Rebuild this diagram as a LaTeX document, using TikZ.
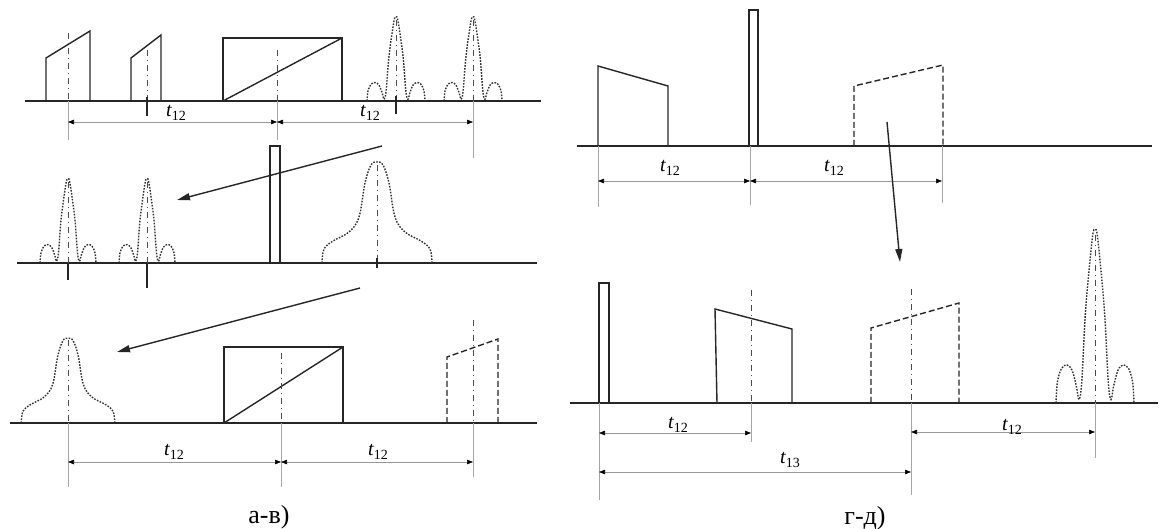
\documentclass[tikz,border=0pt]{standalone}
\usepackage{fontspec}
\setmainfont{Liberation Serif}
\usetikzlibrary{arrows.meta,calc}

\begin{document}
\begin{tikzpicture}[x=1pt, y=-1pt,
  axis/.style={line width=1.6pt, black!85},
  pulse/.style={line width=1.4pt, black!85},
  dashpulse/.style={pulse, dash pattern=on 6pt off 3pt},
  dotpulse/.style={line width=1.4pt, black!80, dash pattern=on 1.6pt off 1.4pt},
  axisline/.style={line width=0.8pt, black!70, dash pattern=on 6pt off 4pt on 1pt off 4pt},
  extline/.style={line width=0.6pt, black!35},
  dimline/.style={line width=0.6pt, black!40, {Triangle[length=6pt,width=4.5pt,black]}-{Triangle[length=6pt,width=4.5pt,black]}},
  tickmark/.style={line width=1.4pt, black!85},
  move/.style={line width=1.4pt, black!85, -{Triangle[length=13pt,width=7pt]}},
  dimlabel/.style={font=\fontsize{20}{24}\selectfont, inner sep=0pt},
  caption/.style={font=\fontsize{26}{30}\selectfont, inner sep=0pt}
]
  \useasboundingbox (0,0) rectangle (1160,529);

  % ---------- а) ----------
  \draw[axis] (25,101) -- (541,101);
  \draw[pulse] (46,101) -- (46,58) -- (90,31) -- (90,101);
  \draw[pulse] (131,101) -- (131,58) -- (161,35) -- (161,101);
  \draw[pulse] (223,101) rectangle (342,38);
  \draw[pulse] (223,101) -- (342,38);
  \draw[axisline] (68,33) -- (68,101);
  \draw[axisline] (147,50) -- (147,101);
  \draw[axisline] (277,50) -- (277,101);
  \draw[axisline] (396,20) -- (396,101);
  \draw[axisline] (473,20) -- (473,101);
  \draw[tickmark] (147,97) -- (147,116);
  \draw[tickmark] (396,96) -- (396,114);
  \draw[extline] (68,101) -- (68,140);
  \draw[extline] (277,101) -- (277,140);
  \draw[extline] (473,101) -- (473,158);
  \coordinate (a1) at (68,122);
  \coordinate (a2) at (277,122);
  \coordinate (a3) at (473,122);
  \draw[dimline] (a1) -- (a2);
  \draw[dimline] (a2) -- (a3);
  \node[dimlabel] (at1) at (176,113) {\textit{t}\raisebox{-4pt}{\fontsize{14}{14}\selectfont 12}};
  \node[dimlabel] (at2) at (370,113) {\textit{t}\raisebox{-4pt}{\fontsize{14}{14}\selectfont 12}};

  % sinc pulses
  \foreach \cx/\base/\h/\hw in {396/101/84/29, 473/101/84/29, 68/263/84/28, 147/263/84/28, 1095/403/173/39}
    \draw[dotpulse] plot[smooth, tension=0.55] coordinates {
      ({\cx-\hw},{\base}) ({\cx-0.965*\hw},{\base-0.12*\h}) ({\cx-0.86*\hw},{\base-0.2*\h})
      ({\cx-0.72*\hw},{\base-0.22*\h}) ({\cx-0.59*\hw},{\base-0.19*\h}) ({\cx-0.48*\hw},{\base-0.1*\h})
      ({\cx-0.41*\hw},{\base-0.02*\h}) ({\cx-0.34*\hw},{\base-0.12*\h}) ({\cx-0.24*\hw},{\base-0.54*\h})
      ({\cx-0.07*\hw},{\base-0.95*\h}) ({\cx},{\base-\h}) ({\cx+0.07*\hw},{\base-0.95*\h})
      ({\cx+0.24*\hw},{\base-0.54*\h}) ({\cx+0.34*\hw},{\base-0.12*\h}) ({\cx+0.41*\hw},{\base-0.02*\h})
      ({\cx+0.48*\hw},{\base-0.1*\h}) ({\cx+0.59*\hw},{\base-0.19*\h}) ({\cx+0.72*\hw},{\base-0.22*\h})
      ({\cx+0.86*\hw},{\base-0.2*\h}) ({\cx+0.965*\hw},{\base-0.12*\h}) ({\cx+\hw},{\base})};

  % ---------- б) ----------
  \draw[axis] (17,263) -- (537,263);
  \draw[pulse] (270,263) rectangle (280,146);
  \draw[axisline] (68,182) -- (68,263);
  \draw[axisline] (147,182) -- (147,263);
  \draw[axisline] (377,165) -- (377,263);
  \draw[tickmark] (68,263) -- (68,280);
  \draw[tickmark] (147,263) -- (147,288);
  \draw[tickmark] (377,258) -- (377,268);

  % bell pulses
  \foreach \cx/\base/\sx/\sy in {377/263/1/1, 68/423/0.85/0.84}
    \draw[dotpulse] plot[smooth, tension=0.6] coordinates {
      ({\cx-55*\sx},{\base}) ({\cx-53*\sx},{\base-14*\sy}) ({\cx-44*\sx},{\base-22*\sy})
      ({\cx-28*\sx},{\base-31*\sy}) ({\cx-18*\sx},{\base-46*\sy}) ({\cx-12*\sx},{\base-80*\sy})
      ({\cx-6*\sx},{\base-98*\sy}) ({\cx},{\base-101*\sy}) ({\cx+6*\sx},{\base-98*\sy})
      ({\cx+12*\sx},{\base-80*\sy}) ({\cx+18*\sx},{\base-46*\sy}) ({\cx+28*\sx},{\base-31*\sy})
      ({\cx+44*\sx},{\base-22*\sy}) ({\cx+53*\sx},{\base-14*\sy}) ({\cx+55*\sx},{\base})};

  \coordinate (m1s) at (382,146);
  \coordinate (m1e) at (177,200);
  \draw[move] (m1s) -- (m1e);

  % ---------- в) ----------
  \draw[axis] (10,423) -- (537,423);
  \draw[pulse] (224,423) rectangle (343,347);
  \draw[pulse] (224,423) -- (343,347);
  \draw[dashpulse] (447,423) -- (447,357) -- (498,339) -- (498,423);
  \draw[axisline] (68,340) -- (68,423);
  \draw[axisline] (281,353) -- (281,423);
  \draw[axisline] (473,320) -- (473,423);
  \draw[extline] (68,423) -- (68,487);
  \draw[extline] (281,423) -- (281,487);
  \draw[extline] (473,423) -- (473,477);
  \coordinate (c1) at (68,462);
  \coordinate (c2) at (281,462);
  \coordinate (c3) at (473,462);
  \draw[dimline] (c1) -- (c2);
  \draw[dimline] (c2) -- (c3);
  \node[dimlabel] (ct1) at (174,452) {\textit{t}\raisebox{-4pt}{\fontsize{14}{14}\selectfont 12}};
  \node[dimlabel] (ct2) at (378,452) {\textit{t}\raisebox{-4pt}{\fontsize{14}{14}\selectfont 12}};

  \coordinate (m2s) at (360,288);
  \coordinate (m2e) at (117,352);
  \draw[move] (m2s) -- (m2e);

  \node[caption] (capl) at (269,517) {а-в)};

  % ---------- г) ----------
  \draw[axis] (577,146) -- (1152,146);
  \draw[pulse] (598,146) -- (598,66) -- (668,86) -- (668,146);
  \draw[pulse] (749,146) rectangle (758,10);
  \draw[dashpulse] (854,146) -- (854,86) -- (943,65) -- (943,146);
  \draw[extline] (598,146) -- (598,207);
  \draw[extline] (750,146) -- (750,205);
  \draw[extline] (942,146) -- (942,203);
  \coordinate (g1) at (598,181);
  \coordinate (g2) at (750,181);
  \coordinate (g3) at (942,181);
  \draw[dimline] (g1) -- (g2);
  \draw[dimline] (g2) -- (g3);
  \node[dimlabel] (gt1) at (670,168) {\textit{t}\raisebox{-4pt}{\fontsize{14}{14}\selectfont 12}};
  \node[dimlabel] (gt2) at (834,168) {\textit{t}\raisebox{-4pt}{\fontsize{14}{14}\selectfont 12}};

  \coordinate (m3s) at (887,122);
  \coordinate (m3e) at (900,262);
  \draw[move] (m3s) -- (m3e);

  % ---------- д) ----------
  \draw[axis] (570,403) -- (1158,403);
  \draw[pulse] (599,403) rectangle (609,283);
  \draw[pulse] (717,403) -- (715,309) -- (792,329) -- (792,403);
  \draw[dashpulse] (871,403) -- (871,328) -- (959,303) -- (959,403);
  \draw[axisline] (751,290) -- (751,403);
  \draw[axisline] (911,289) -- (911,403);
  \draw[axisline] (1095,235) -- (1095,403);
  \draw[extline] (599,403) -- (599,500);
  \draw[extline] (751,403) -- (751,442);
  \draw[extline] (911,403) -- (911,495);
  \draw[extline] (1095,403) -- (1095,458);
  \coordinate (d1) at (599,433);
  \coordinate (d2) at (751,433);
  \coordinate (d3) at (599,472);
  \coordinate (d4) at (911,472);
  \coordinate (d5) at (911,432);
  \coordinate (d6) at (1095,432);
  \draw[dimline] (d1) -- (d2);
  \draw[dimline] (d3) -- (d4);
  \draw[dimline] (d5) -- (d6);
  \node[dimlabel] (dt1) at (678,425) {\textit{t}\raisebox{-4pt}{\fontsize{14}{14}\selectfont 12}};
  \node[dimlabel] (dt2) at (790,460) {\textit{t}\raisebox{-4pt}{\fontsize{14}{14}\selectfont 13}};
  \node[dimlabel] (dt3) at (1012,427) {\textit{t}\raisebox{-4pt}{\fontsize{14}{14}\selectfont 12}};

  \node[caption] (capr) at (865,518) {г-д)};
\end{tikzpicture}
\end{document}
